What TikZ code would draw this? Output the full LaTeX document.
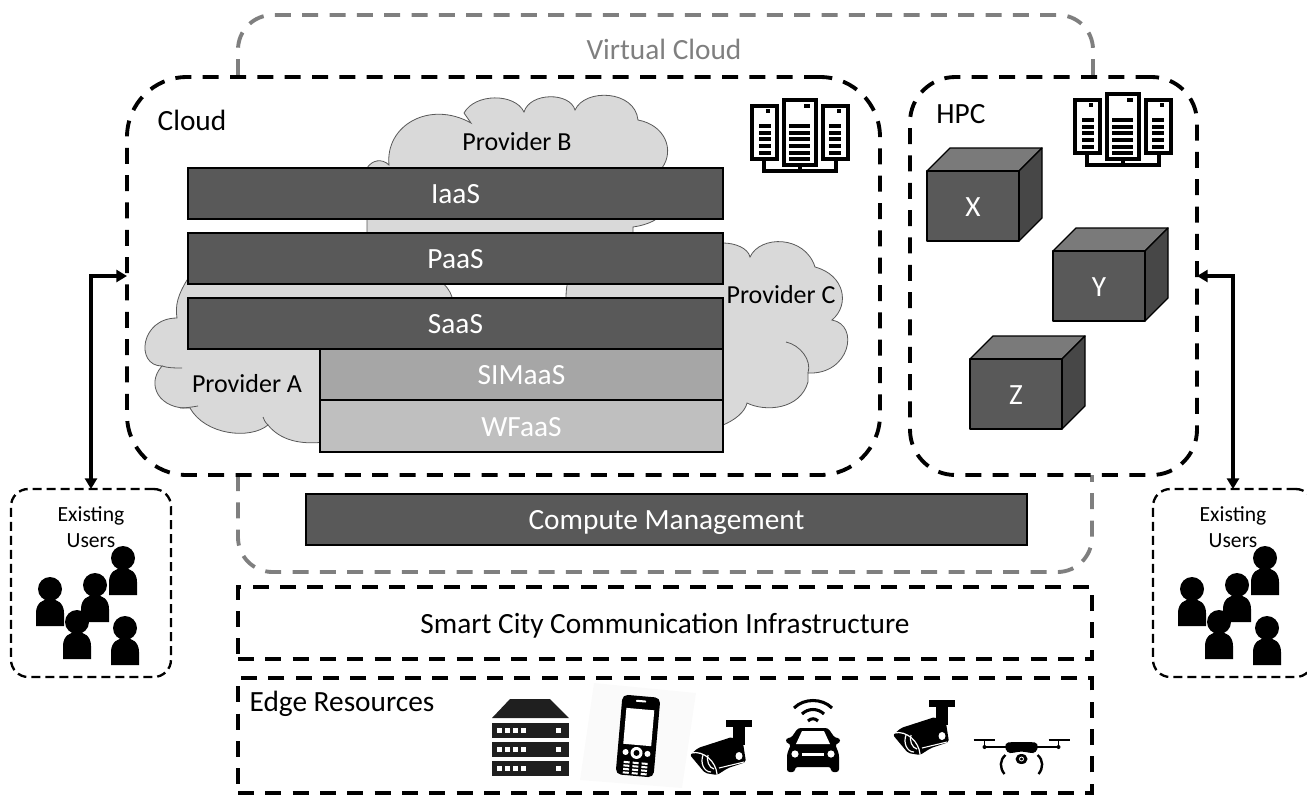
\documentclass[tikz,border=0pt]{standalone}
\usepackage{fontspec}
\setmainfont{Carlito}
\usetikzlibrary{arrows.meta}
\definecolor{boxdark}{HTML}{595959}
\definecolor{boxmid}{HTML}{A6A6A6}
\definecolor{boxlight}{HTML}{BFBFBF}
\definecolor{cloudgray}{HTML}{D9D9D9}
\definecolor{vcgray}{HTML}{7F7F7F}
\newcommand{\fs}[1]{\fontsize{#1}{#1}\selectfont}
\tikzset{
  pic base/.style={x=0.75pt,y=-0.75pt},
  heavydash/.style={line width=2.9pt,dash pattern=on 12pt off 8.5pt},
  lightdash/.style={line width=1.75pt,dash pattern=on 6.75pt off 3.75pt},
  bigtext/.style={font=\fs{22},text height=15pt,text depth=0pt},
  layerbox/.style={draw=black,line width=1.1pt,text=white,bigtext},
  cloudshape/.style={fill=cloudgray,draw=black!65,line width=0.6pt},
  cubeedge/.style={draw=black,line width=1pt,line join=round},
  link/.style={line width=2.7pt,{Triangle[length=8pt,width=9pt]}-{Triangle[length=8pt,width=9pt]}},
  plain/.style={font=\fs{19.5},text height=13pt,text depth=0pt,text=black,inner sep=0pt},
  bigplain/.style={bigtext,text=black,inner sep=0pt},
}
% name, x1, y1, x2, y2, style, text
\newcommand{\pbox}[7]{%
  \pgfmathsetmacro{\pw}{(#4-#2)*0.75}%
  \pgfmathsetmacro{\ph}{(#5-#3)*0.75}%
  \node[#6,inner sep=0pt,outer sep=0pt,minimum width=\pw pt,minimum height=\ph pt] (#1) at ({(#2+#4)/2},{(#3+#5)/2}) {#7};}
\newcommand{\person}[2]{%
  \begin{scope}[shift={(#1,#2)}]
    \fill (0,0) circle[radius=12];
    \fill (-14,37) -- (-14,24) .. controls (-14,14) and (-7,10) .. (0,10) .. controls (7,10) and (14,14) .. (14,24) -- (14,37) -- cycle;
  \end{scope}}
\newcommand{\crowd}[1]{%
  \begin{scope}[shift={(#1,0)}]
    \person{50}{589}\person{95}{585}\person{123}{558}\person{77}{622}\person{125}{628}
  \end{scope}}
% x1 x2 y1 y2 | bars x1 | last bar index | square x1 x2 y1
\newcommand{\tower}[9]{%
  \draw[line width=3pt,fill=white] (#1,#3) rectangle (#2,#4);
  \fill (#7,#9) rectangle (#8,#9+4);
  \foreach \k in {0,...,#6}{\fill (#5,26+\k*6.67) rectangle (#5+\barw,30+\k*6.67);}}
\newcommand{\servers}[2]{%
  \begin{scope}[shift={(#1,#2)}]
    \draw[line width=3pt] (14.7,61) -- (14.7,73) -- (87,73) -- (87,61) (50.7,67) -- (50.7,73);
    \def\barw{12}\tower{3}{28}{8}{61}{9.5}{4}{17}{21}{11}
    \def\barw{21}\tower{35}{67}{2}{67}{40}{5}{55}{61}{5.5}
    \def\barw{12}\tower{74}{99}{8}{61}{80}{4}{88}{92}{11}
  \end{scope}}
\newcommand{\cctv}[2]{%
  \begin{scope}[shift={(#1,#2)}]
    \fill (726,720) rectangle (752,727);
    \fill (733,727) rectangle (745,745);
    \fill[rounded corners=1.5pt] (690,755) -- (698,748) -- (732,737) -- (743,743) -- (746,762) -- (728,768) -- (717,775) -- (705,773) -- cycle;
    \draw[white,line width=0.9pt] (691,753) .. controls (704,750) and (716,762) .. (717,774);
    \draw[white,line width=0.9pt] (703,755) .. controls (700,763) and (704,772) .. (711,772);
    \draw[white,line width=0.9pt] (708,755) .. controls (706,760) and (709,768) .. (714,769);
    \fill[white] (739,756) ellipse[x radius=3.5,y radius=4];
    \draw[white,line width=0.8pt] (719,768) -- (744,762);
  \end{scope}}
\begin{document}
\begin{tikzpicture}[pic base]
\useasboundingbox (0,0) rectangle (1307,794);
% clouds
\draw[cloudshape] (367,168) .. controls (372,160) and (382,158) .. (389,165)
  .. controls (385,125) and (430,100) .. (471,123) -- (464,113)
  .. controls (475,93) and (515,93) .. (524,112)
  .. controls (530,92) and (570,92) .. (575,110)
  .. controls (585,88) and (635,90) .. (638,120)
  .. controls (665,125) and (675,150) .. (662,168)
  -- (655,220) .. controls (648,224) and (640,226) .. (633,227)
  -- (633,236) -- (367,236) -- (367,220) -- cycle;
\draw[cloudshape] (187,280) .. controls (178,295) and (175,305) .. (177,318)
  .. controls (140,318) and (135,366) .. (162,366)
  .. controls (145,385) and (160,410) .. (190,408)
  .. controls (205,435) and (250,440) .. (268,425)
  .. controls (280,440) and (300,445) .. (325,442)
  -- (452,340) -- (452,297) .. controls (450,290) and (445,285) .. (440,280) -- cycle;
\draw[black!65,line width=0.6pt] (162,366) .. controls (168,368) and (175,368) .. (182,368);
\draw[black!65,line width=0.6pt] (180,408) .. controls (186,408) and (192,407) .. (198,406);
\draw[black!65,line width=0.6pt] (268,425) .. controls (265,422) and (264,420) .. (263,417);
\draw[cloudshape] (566,297) .. controls (566,290) and (567,285) .. (568,280) -- (723,243)
  .. controls (735,243) and (748,248) .. (750,257)
  .. controls (760,235) and (805,235) .. (815,267)
  .. controls (845,275) and (850,305) .. (832,320)
  .. controls (860,325) and (850,375) .. (808,373)
  -- (808,382) .. controls (800,410) and (765,412) .. (747,403)
  .. controls (745,412) and (735,420) .. (723,425) -- (600,380) -- cycle;
\draw[black!65,line width=0.6pt] (786,342) .. controls (800,345) and (812,360) .. (808,373);
% virtual cloud
\coordinate (vtl) at (238,75);
\coordinate (vtr) at (1093,75);
\coordinate (vbl) at (238,475);
\coordinate (vbr) at (1092,475);
\draw[heavydash,vcgray,rounded corners=26pt] (vtl) -- (238,15) -- (1093,15) -- (vtr);
\draw[heavydash,vcgray,rounded corners=26pt] (vbl) -- (238,572) -- (1092,572) -- (vbr);
\node[bigplain,text=vcgray] (vclabel) at (664,49) {Virtual Cloud};
% main regions
\pbox{cloudreg}{127}{77}{880}{475}{draw=black,heavydash,rounded corners=45pt}{}
\pbox{hpcreg}{910}{77}{1197}{475}{draw=black,heavydash,rounded corners=34pt}{}
\node[bigplain] (cloudlbl) at (192,120) {Cloud};
\node[bigplain] (hpclbl) at (961,113) {HPC};
\node[plain] (pb) at (517,142) {Provider B};
\node[plain] (pa) at (247,383.5) {Provider A};
\node[plain] (pc) at (781,294.5) {Provider C};
% layers
\pbox{iaas}{188}{168}{723}{219}{layerbox,fill=boxdark}{IaaS}
\pbox{paas}{188}{233}{723}{284}{layerbox,fill=boxdark}{PaaS}
\pbox{saas}{188}{298}{723}{349}{layerbox,fill=boxdark}{SaaS}
\pbox{simaas}{320}{349}{723}{400}{layerbox,fill=boxmid}{SIMaaS}
\pbox{wfaas}{320}{400}{723}{452}{layerbox,fill=boxlight}{WFaaS}
\pbox{compute}{306}{494}{1027}{545}{layerbox,fill=boxdark}{Compute Management}
% server icons
\servers{749}{98}
\servers{1072}{92}
% cubes
\foreach \cx/\cy/\lab/\nm in {927/171/X/cubex,1053/251/Y/cubey,970/359/Z/cubez}{
  \begin{scope}[shift={(\cx,\cy)}]
    \draw[cubeedge,fill=black!52] (0,0) -- (23,-23) -- (115,-23) -- (92,0) -- cycle;
    \draw[cubeedge,fill=black!72] (92,0) -- (115,-23) -- (115,47) -- (92,70) -- cycle;
    \pbox{\nm}{0}{0}{92}{70}{cubeedge,fill=boxdark,text=white,bigtext}{\lab}
  \end{scope}
}
% lower bands
\pbox{smart}{238}{587}{1092}{659}{draw=black,heavydash,bigtext}{Smart City Communication Infrastructure}
\pbox{edge}{238}{678}{1092}{793}{draw=black,heavydash}{}
\node[bigplain] (edgelbl) at (342,701.5) {Edge Resources};
% users
\pbox{usersl}{11}{489}{171}{677}{draw=black,lightdash,rounded corners=13pt}{}
\pbox{usersr}{1153}{489}{1313}{677}{draw=black,lightdash,rounded corners=13pt}{}
\node[font=\fontsize{16.2}{20}\selectfont,align=center,inner sep=0pt] (ultext) at (91,527) {Existing\\Users};
\node[font=\fontsize{16.2}{20}\selectfont,align=center,inner sep=0pt] (urtext) at (1233,527) {Existing\\Users};
\crowd{0}
\crowd{1142}
\draw[link] (usersl.north) |- (cloudreg.west);
\draw[link] (usersr.north) |- (hpcreg.east);
% edge icons: rack
\fill[black!88] (510,699) -- (550,699) -- (569,718) -- (492,718) -- cycle;
\foreach \yy in {723,742,761}{
  \fill[black!88] (492,\yy) rectangle (569,\yy+15);
  \foreach \xx in {497,505,513,521,556}{\fill[white] (\xx,\yy+5) rectangle (\xx+5,\yy+10);}
}
% phone
\fill[black!2] (594,683) -- (696,693) -- (682,788) -- (580,780) -- cycle;
\begin{scope}[shift={(638,736)},rotate=-5]
  \fill[rounded corners=4pt] (-19,-40) rectangle (19,40);
  \fill[white] (-14,-27) rectangle (14,9);
  \fill[white,rounded corners=0.5pt] (-5,-36) rectangle (5,-34);
  \fill[white] (0,17) circle[radius=6];
  \fill (0,17) circle[radius=3];
  \fill[white] (-11,17) circle[radius=3] (11,17) circle[radius=3];
  \foreach \r in {0,1,2,3}{\foreach \c in {-9,0,9}{\fill[white] (\c-3,26+\r*3.5) rectangle (\c+3,28+\r*3.5);}}
\end{scope}
% cameras
\cctv{0}{0}
\cctv{203}{-20}
% car
\begin{scope}[shift={(813,750)}]
  \draw[line width=2.3pt] (-19,-42) .. controls (-9,-52) and (9,-52) .. (19,-42);
  \draw[line width=2.3pt] (-11,-36) .. controls (-5,-42) and (5,-42) .. (11,-36);
  \draw[line width=2.3pt] (-5,-29) .. controls (-2,-32) and (2,-32) .. (5,-29);
  \fill[rounded corners=2pt] (-15,-22) -- (15,-22) -- (22,-12) -- (27,-12) -- (27,-7) -- (22,-6) -- (26,4) -- (26,22) -- (18,22) -- (18,17) -- (-18,17) -- (-18,22) -- (-26,22) -- (-26,4) -- (-22,-6) -- (-27,-7) -- (-27,-12) -- (-22,-12) -- cycle;
  \fill[white] (-11,-19) -- (11,-19) -- (17,-6) -- (-17,-6) -- cycle;
  \fill[white] (-18,4) circle[radius=3.6] (18,4) circle[radius=3.6];
  \fill[white] (-11,3) rectangle (11,6);
\end{scope}
% drone
\begin{scope}[shift={(1021.5,748)}]
  \draw[line width=1.4pt] (-48,-8) -- (-27,-8) (27,-8) -- (48,-8);
  \draw[line width=1.4pt] (-37,-8) -- (-37,-1) (37,-8) -- (37,-1) (-37,-1) -- (37,-1);
  \fill (-37,-1) circle[radius=2] (37,-1) circle[radius=2];
  \fill[rounded corners=3pt] (-17,-5) -- (-10,-6) -- (10,-6) -- (17,-5) -- (15,5) -- (8,5) -- (0,3) -- (-8,5) -- (-15,5) -- cycle;
  \draw[line width=1.8pt] (-16,7) .. controls (-22,12) and (-22,20) .. (-17,26);
  \draw[line width=1.8pt] (16,7) .. controls (22,12) and (22,20) .. (17,26);
  \fill (0,11) ellipse[x radius=6,y radius=5];
  \draw[white,line width=0.6pt] (0,11) circle[radius=2];
\end{scope}
\end{tikzpicture}
\end{document}
